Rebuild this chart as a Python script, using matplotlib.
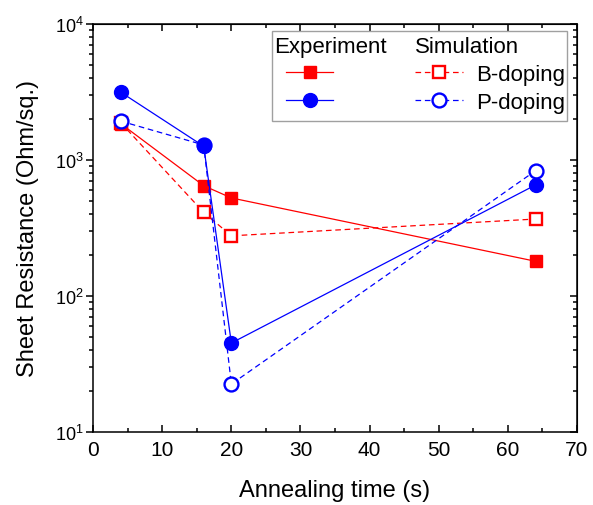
import matplotlib
matplotlib.use("Agg")
import matplotlib.pyplot as plt
from matplotlib.patches import Rectangle
from matplotlib.ticker import MultipleLocator, LogLocator, NullFormatter

plt.rcParams['font.family'] = ['Liberation Sans', 'DejaVu Sans']
plt.rcParams['mathtext.fontset'] = 'custom'
plt.rcParams['mathtext.rm'] = 'Liberation Sans'
plt.rcParams['mathtext.it'] = 'Liberation Sans'

# annealing time (s)
time_s = [4, 16, 20, 64]

# sheet resistance (Ohm/sq.)
exp_b = [1850, 647, 526, 180]
exp_p = [3150, 1262, 45.1, 655]
sim_b = [1880, 412, 277, 368]
sim_p = [1930, 1290, 22.5, 834]

RED = "#ff0000"
BLUE = "#0000ff"
FS_X = 15      # x tick labels
FS_Y = 13      # y tick labels
FS_LAB = 17    # axis titles
FS_LEG = 16

fig = plt.figure(figsize=(5.93, 5.06), dpi=100)
ax = fig.add_axes([0.157, 0.1443, 0.816, 0.8063])

dash = (4.5, 3)
h_eb, = ax.plot(time_s, exp_b, color=RED, lw=0.9, marker="s", ms=8.5,
                mfc=RED, mec=RED, zorder=3)
h_sb, = ax.plot(time_s, sim_b, color=RED, lw=0.9, ls=(0, dash), marker="s",
                ms=8.5, mfc="white", mec=RED, mew=1.7, zorder=3.1)
h_sp, = ax.plot(time_s, sim_p, color=BLUE, lw=0.9, ls=(0, dash), marker="o",
                ms=10, mfc="white", mec=BLUE, mew=1.7, zorder=3.2)
h_ep, = ax.plot(time_s, exp_p, color=BLUE, lw=0.9, marker="o", ms=10,
                mfc=BLUE, mec=BLUE, zorder=3.3)

ax.set_yscale("log")
ax.set_xlim(0, 70)
ax.set_ylim(10, 1e4)
ax.xaxis.set_major_locator(MultipleLocator(10))
ax.xaxis.set_minor_locator(MultipleLocator(5))
ax.yaxis.set_major_locator(LogLocator(base=10, numticks=10))
ax.yaxis.set_minor_locator(LogLocator(base=10, subs=range(2, 10), numticks=10))
ax.yaxis.set_minor_formatter(NullFormatter())

for sp in ax.spines.values():
    sp.set_linewidth(1.1)

ax.tick_params(axis="x", which="both", direction="in", labelsize=FS_X, pad=6, width=1.1)
ax.tick_params(axis="y", which="both", direction="out", labelsize=FS_Y, pad=2, width=1.1)
ax.tick_params(which="major", length=5)
ax.tick_params(which="minor", length=3)

# mirrored axes on top and right with inward ticks
top = ax.secondary_xaxis("top")
top.xaxis.set_major_locator(MultipleLocator(10))
top.xaxis.set_minor_locator(MultipleLocator(5))
top.tick_params(which="both", direction="in", labeltop=False, width=1.1)
top.tick_params(which="major", length=5)
top.tick_params(which="minor", length=3)
right = ax.secondary_yaxis("right")
right.yaxis.set_major_locator(LogLocator(base=10, numticks=10))
right.yaxis.set_minor_locator(LogLocator(base=10, subs=range(2, 10), numticks=10))
right.tick_params(which="both", direction="in", labelright=False, width=1.1)
right.tick_params(which="major", length=5)
right.tick_params(which="minor", length=3)

ax.set_xlabel("Annealing time (s)", fontsize=FS_LAB, labelpad=14)
ax.set_ylabel("Sheet Resistance (Ohm/sq.)", fontsize=FS_LAB, labelpad=11)

# legend: frame plus two headed columns
frame = Rectangle((0.370, 0.762), 0.609, 0.221, transform=ax.transAxes,
                  facecolor="white", edgecolor="#a0a0a0", lw=1.0, zorder=5)
ax.add_patch(frame)

common = dict(frameon=False, fontsize=FS_LEG, title_fontsize=FS_LEG,
              alignment="left", handlelength=2.15, handletextpad=0.63,
              labelspacing=0.3, borderpad=0.15, borderaxespad=0)
# blank title keeps the experiment rows level with the simulation rows
leg1 = ax.legend([h_eb, h_ep], ["", ""], title=" ",
                 loc="upper left", bbox_to_anchor=(0.391, 0.978), **common)
leg1.set_zorder(6)
ax.add_artist(leg1)
leg2 = ax.legend([h_sb, h_sp], ["B-doping", "P-doping"], title="Simulation",
                 loc="upper left", bbox_to_anchor=(0.658, 0.978), **common)
leg2.set_zorder(6)
ax.annotate("Experiment", xy=(0.374, 0),
            xycoords=("axes fraction", leg2.get_title()),
            ha="left", va="bottom", fontsize=FS_LEG, zorder=7)

fig.savefig("out.png", dpi=100)
